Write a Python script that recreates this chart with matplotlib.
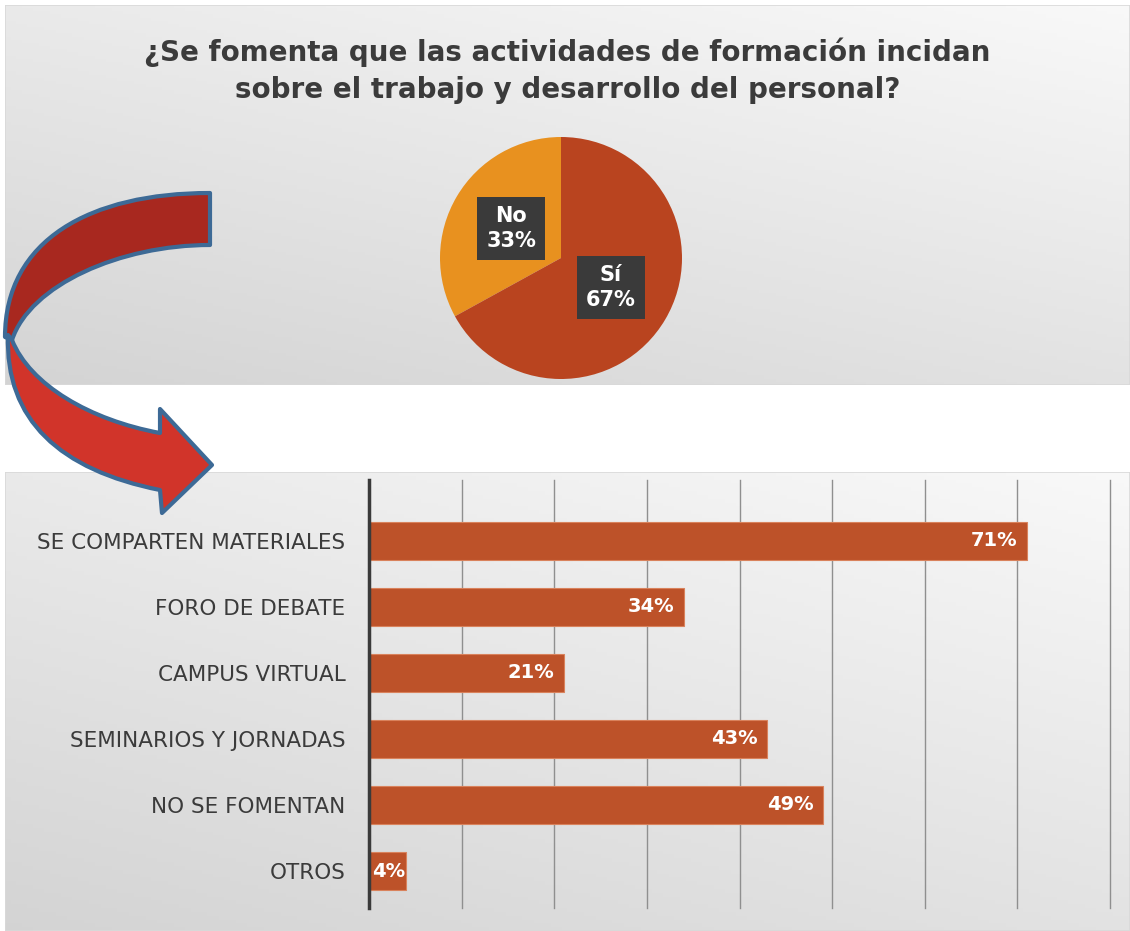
import numpy as np
import matplotlib
matplotlib.use("Agg")
from matplotlib import pyplot as plt
from matplotlib.path import Path
from matplotlib.patches import PathPatch, Rectangle

# datos
title_text = "¿Se fomenta que las actividades de formación incidan\nsobre el trabajo y desarrollo del personal?"
pie_labels = ["No", "Sí"]
pie_values = [33, 67]
pie_colors = ["#E8911F", "#B9441F"]

categories = ["SE COMPARTEN MATERIALES", "FORO DE DEBATE", "CAMPUS VIRTUAL",
              "SEMINARIOS Y JORNADAS", "NO SE FOMENTAN", "OTROS"]
values = [71, 34, 21, 43, 49, 4]
bar_color = "#BD5229"
text_gray = "#3b3b3b"

W, H = 1130, 931
fig = plt.figure(figsize=(W / 100, H / 100), dpi=100)
fig.patch.set_facecolor("white")


def panel(rect, top, bottom_left):
    """Fondo gris con degradado."""
    ax = fig.add_axes(rect, zorder=0)
    xx, yy = np.meshgrid(np.linspace(0, 1, 200), np.linspace(0, 1, 120))
    v = top - (top - bottom_left) * (0.6 * yy + 0.4 * (1 - xx))
    ax.imshow(np.dstack([v, v, v]), aspect="auto", extent=(0, 1, 1, 0))
    ax.set_xlim(0, 1)
    ax.set_ylim(1, 0)
    ax.axis("off")
    ax.add_patch(Rectangle((0, 0), 1, 1, fill=False, ec="#d9d9d9", lw=1.2,
                           transform=ax.transAxes))
    return ax


panel([5 / W, 1 - 385 / H, 1 - 5 / W, 380 / H], 0.975, 0.83)
panel([5 / W, 0, 1 - 5 / W, 1 - 472 / H], 0.975, 0.83)

fig.text(0.502, 1 - 71 / H, title_text, ha="center", va="center", fontsize=20,
         fontweight="bold", color=text_gray, linespacing=1.4, zorder=3)

# grafico circular
ax_pie = fig.add_axes([440 / W, 1 - 379 / H, 242 / W, 242 / H], zorder=2)
ax_pie.set_facecolor("none")
wedges, texts = ax_pie.pie(
    pie_values, colors=pie_colors, startangle=90, counterclock=True,
    labels=[f"{l}\n{v}%" for l, v in zip(pie_labels, pie_values)],
    labeldistance=0.48, radius=1.0, wedgeprops=dict(linewidth=0))
for t in texts:
    t.set_ha("center")
    t.set_va("center")
    t.set_color("white")
    t.set_fontsize(15)
    t.set_fontweight("bold")
    t.set_linespacing(1.3)
    t.set_bbox(dict(boxstyle="square,pad=0.45", fc="#3a3a3a", ec="none"))
ax_pie.set_xlim(-1, 1)
ax_pie.set_ylim(-1, 1)
ax_pie.set_aspect("equal")

# barras
ax = fig.add_axes([369 / W, 1 - 908 / H, 741 / W, 428 / H], zorder=2)
ax.set_facecolor("none")
y = np.arange(len(categories))
ax.barh(y, values, height=0.58, color=bar_color, edgecolor="#d9825c",
        linewidth=0.8, zorder=3)
ax.set_xlim(0, 80)
ax.set_ylim(5.56, -0.92)
ax.set_xticks(np.arange(10, 81, 10))
ax.xaxis.grid(True, color="#8f8f8f", linewidth=1.0, zorder=1, clip_on=False)
ax.tick_params(axis="x", length=0, labelbottom=False)
ax.tick_params(axis="y", length=0, pad=17)
ax.set_yticks(y)
ax.set_yticklabels(categories, fontsize=15.5, color=text_gray)
for s in ["top", "right", "bottom"]:
    ax.spines[s].set_visible(False)
ax.spines["left"].set_linewidth(2.5)
ax.spines["left"].set_color("#3a3a3a")
ax.spines["left"].set_zorder(4)

for yi, v in zip(y, values):
    if v < 8:
        ax.text(0.3, yi, f"{v}%", ha="left", va="center", color="white",
                fontsize=14, fontweight="bold", zorder=5)
    else:
        ax.text(v - 1.0, yi, f"{v}%", ha="right", va="center", color="white",
                fontsize=14, fontweight="bold", zorder=5)

# flecha curva (decoracion)
ov = fig.add_axes([0, 0, 1, 1], zorder=10)
ov.set_xlim(0, W)
ov.set_ylim(H, 0)
ov.axis("off")
ov.set_facecolor("none")

C = Path.CURVE4
top_part = Path(
    [(210, 193), (90, 193), (5, 240), (5, 337),
     (12, 340), (30, 285), (120, 245), (210, 245), (210, 193)],
    [Path.MOVETO, C, C, C, Path.LINETO, C, C, C, Path.CLOSEPOLY])
low_part = Path(
    [(8, 335), (5, 420), (60, 470), (160, 490),
     (162, 513), (212, 465), (160, 409), (160, 433),
     (90, 420), (30, 385), (12, 340), (8, 335)],
    [Path.MOVETO, C, C, C, Path.LINETO, Path.LINETO, Path.LINETO, Path.LINETO,
     C, C, C, Path.CLOSEPOLY])
ov.add_patch(PathPatch(top_part, fc="#A8281F", ec="#3D6A96", lw=3, joinstyle="round"))
ov.add_patch(PathPatch(low_part, fc="#D1342A", ec="#3D6A96", lw=3, joinstyle="round"))

fig.savefig("out.png", dpi=100, facecolor="white")
